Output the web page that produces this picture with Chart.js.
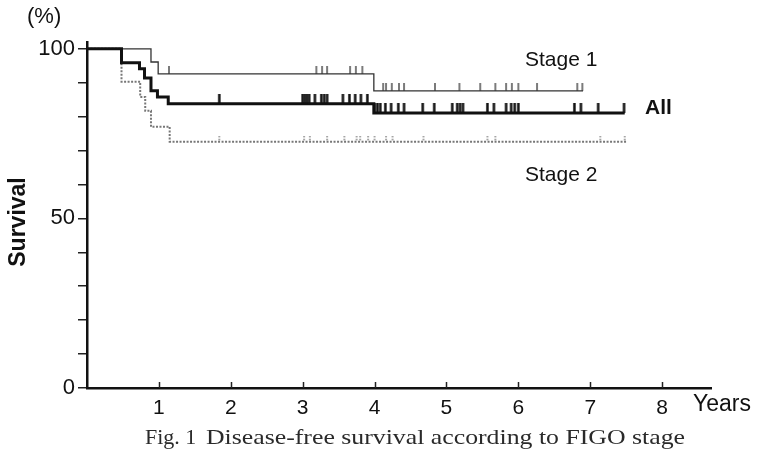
<!DOCTYPE html>
<html>
<head>
<meta charset="utf-8">
<script src="https://cdn.jsdelivr.net/npm/chart.js@4.4.1/dist/chart.umd.min.js"></script>
<style>
  html, body { margin: 0; padding: 0; background: #fff; }
</style>
</head>
<body>
<canvas id="chart" width="760" height="453"></canvas>
<script>
// step curves: time of each drop (years) and survival after it (%)
const stage1Times = [0, 0.89, 0.99, 3.99, 6.90];
const stage1Surv  = [100, 96.1, 92.6, 87.6, 87.6];
const allTimes    = [0, 0.48, 0.73, 0.80, 0.89, 0.98, 1.13, 3.99, 7.48];
const allSurv     = [100, 95.9, 94.1, 91.4, 87.6, 85.8, 83.8, 81.1, 81.1];
const stage2Times = [0, 0.48, 0.74, 0.81, 0.89, 1.15, 7.50];
const stage2Surv  = [100, 90.3, 85.8, 81.7, 77.0, 72.6, 72.6];

// censored cases (tick marks), years
const stage1Censor = [1.14, 3.19, 3.27, 3.34, 3.66, 3.74, 3.83, 4.12, 4.16, 4.24, 4.34, 4.41,
  4.84, 5.18, 5.47, 5.68, 5.83, 5.91, 6.00, 6.26, 6.82, 6.89];
const allCensor = [1.84, 3.00, 3.03, 3.06, 3.09, 3.17, 3.26, 3.30, 3.34, 3.56, 3.65, 3.73, 3.81, 3.90,
  4.00, 4.04, 4.08, 4.15, 4.23, 4.33, 4.41, 4.67, 4.83, 5.08, 5.15, 5.19, 5.23,
  5.57, 5.66, 5.83, 5.90, 5.95, 6.00, 6.78, 6.87, 7.11, 7.47];
const stage2Censor = [1.84, 3.02, 3.10, 3.34, 3.58, 3.75, 3.80, 3.91, 4.00, 4.16, 4.25, 4.68,
  5.57, 5.68, 7.14, 7.48];

const xTicks = [1, 2, 3, 4, 5, 6, 7, 8];
const yTicks = [0, 10, 20, 30, 40, 50, 60, 70, 80, 90, 100];
const yLabels = [0, 50, 100];

// survival at time t
function survAt(times, surv, t) {
  let s = surv[0];
  for (let i = 0; i < times.length; i++) {
    if (times[i] <= t) s = surv[i];
  }
  return s;
}

function curve(times, surv) {
  return times.map((t, i) => ({ x: t, y: surv[i] }));
}

function censor(list, times, surv) {
  return list.map(t => ({ x: t, y: survAt(times, surv, t) }));
}

// upward tick used as point style (bottom half left empty)
function tickMark(w, h, color, dash) {
  const c = document.createElement("canvas");
  c.width = Math.ceil(w) + 2;
  c.height = h * 2;
  const g = c.getContext("2d");
  g.strokeStyle = color;
  g.lineWidth = w;
  if (dash) g.setLineDash(dash);
  g.beginPath();
  g.moveTo(c.width / 2, 0);
  g.lineTo(c.width / 2, h);
  g.stroke();
  return c;
}

const sans = "'Liberation Sans', Arial, sans-serif";
const serif = "'Liberation Serif', 'Times New Roman', serif";

// TEXT + INNER X TICKS
const extras = {
  id: "extras",
  afterDraw(chart) {
    const ctx = chart.ctx;
    const x = chart.scales.x;
    const bottom = chart.chartArea.bottom;

    ctx.save();
    ctx.strokeStyle = "#222";
    ctx.lineWidth = 1.5;
    xTicks.forEach(v => {
      const px = Math.round(x.getPixelForValue(v)) + 0.5;
      ctx.beginPath();
      ctx.moveTo(px, bottom);
      ctx.lineTo(px, bottom - 6);
      ctx.stroke();
    });

    ctx.fillStyle = "#111";
    ctx.textBaseline = "middle";
    ctx.textAlign = "left";

    ctx.font = "23px " + sans;
    ctx.fillText("Years", 693, 405);
    ctx.font = "22px " + sans;
    ctx.fillText("(%)", 27, 17);

    ctx.font = "21px " + sans;
    ctx.fillText("Stage 1", 525, 60);
    ctx.fillText("Stage 2", 525, 175);
    ctx.font = "bold 21px " + sans;
    ctx.fillText("All", 645, 108);

    ctx.save();
    ctx.translate(19, 222);
    ctx.rotate(-Math.PI / 2);
    ctx.textAlign = "center";
    ctx.font = "bold 23px " + sans;
    ctx.fillText("Survival", 0, 0);
    ctx.restore();

    // caption
    ctx.fillStyle = "#2a2a2a";
    ctx.textBaseline = "alphabetic";
    ctx.font = "22px " + serif;
    ctx.fillText("Fig. 1", 145, 444);
    const cap = "Disease-free survival according to FIGO stage";
    const w = ctx.measureText(cap).width;
    ctx.save();
    ctx.translate(206, 444);
    ctx.scale(479 / w, 1);
    ctx.fillText(cap, 0, 0);
    ctx.restore();

    ctx.restore();
  }
};

new Chart(document.getElementById("chart"), {
  type: "line",
  data: {
    datasets: [
      {
        type: "scatter",
        data: censor(allCensor, allTimes, allSurv),
        pointStyle: tickMark(2.5, 10, "#111"),
        pointRadius: 3
      },
      {
        type: "scatter",
        data: censor(stage1Censor, stage1Times, stage1Surv),
        pointStyle: tickMark(1.3, 8, "#333"),
        pointRadius: 3
      },
      {
        type: "scatter",
        data: censor(stage2Censor, stage2Times, stage2Surv),
        pointStyle: tickMark(1.5, 6, "#777", [1.5, 1.5]),
        pointRadius: 3
      },
      {
        label: "All",
        data: curve(allTimes, allSurv),
        stepped: "before",
        borderColor: "#111",
        borderWidth: 3,
        pointRadius: 0
      },
      {
        label: "Stage 1",
        data: curve(stage1Times, stage1Surv),
        stepped: "before",
        borderColor: "#333",
        borderWidth: 1.3,
        pointRadius: 0
      },
      {
        label: "Stage 2",
        data: curve(stage2Times, stage2Surv),
        stepped: "before",
        borderColor: "#777",
        borderWidth: 2,
        borderDash: [2, 1.5],
        pointRadius: 0
      }
    ]
  },
  options: {
    responsive: false,
    animation: false,
    devicePixelRatio: 1,
    layout: { padding: { top: 42, right: 49, left: 0, bottom: 0 } },
    plugins: {
      legend: { display: false },
      tooltip: { enabled: false }
    },
    scales: {
      x: {
        type: "linear",
        min: 0,
        max: 8.68,
        afterBuildTicks: s => { s.ticks = xTicks.map(v => ({ value: v })); },
        afterFit: s => { s.height = 65; },
        ticks: {
          padding: 8,
          maxRotation: 0,
          autoSkip: false,
          color: "#111",
          font: { family: sans, size: 21 }
        },
        grid: { display: false, drawTicks: false, drawOnChartArea: false },
        border: { display: true, color: "#111", width: 2.5 }
      },
      y: {
        type: "linear",
        min: 0,
        max: 102,
        afterBuildTicks: s => { s.ticks = yTicks.map(v => ({ value: v })); },
        afterFit: s => { s.width = 87; },
        ticks: {
          padding: 3,
          color: "#111",
          font: { family: sans, size: 22 },
          callback: v => (yLabels.includes(v) ? v : "")
        },
        grid: {
          drawOnChartArea: false,
          drawTicks: true,
          tickLength: 9,
          color: "#222",
          lineWidth: 1.5
        },
        border: { display: true, color: "#111", width: 2.5 }
      }
    }
  },
  plugins: [extras]
});
</script>
</body>
</html>
